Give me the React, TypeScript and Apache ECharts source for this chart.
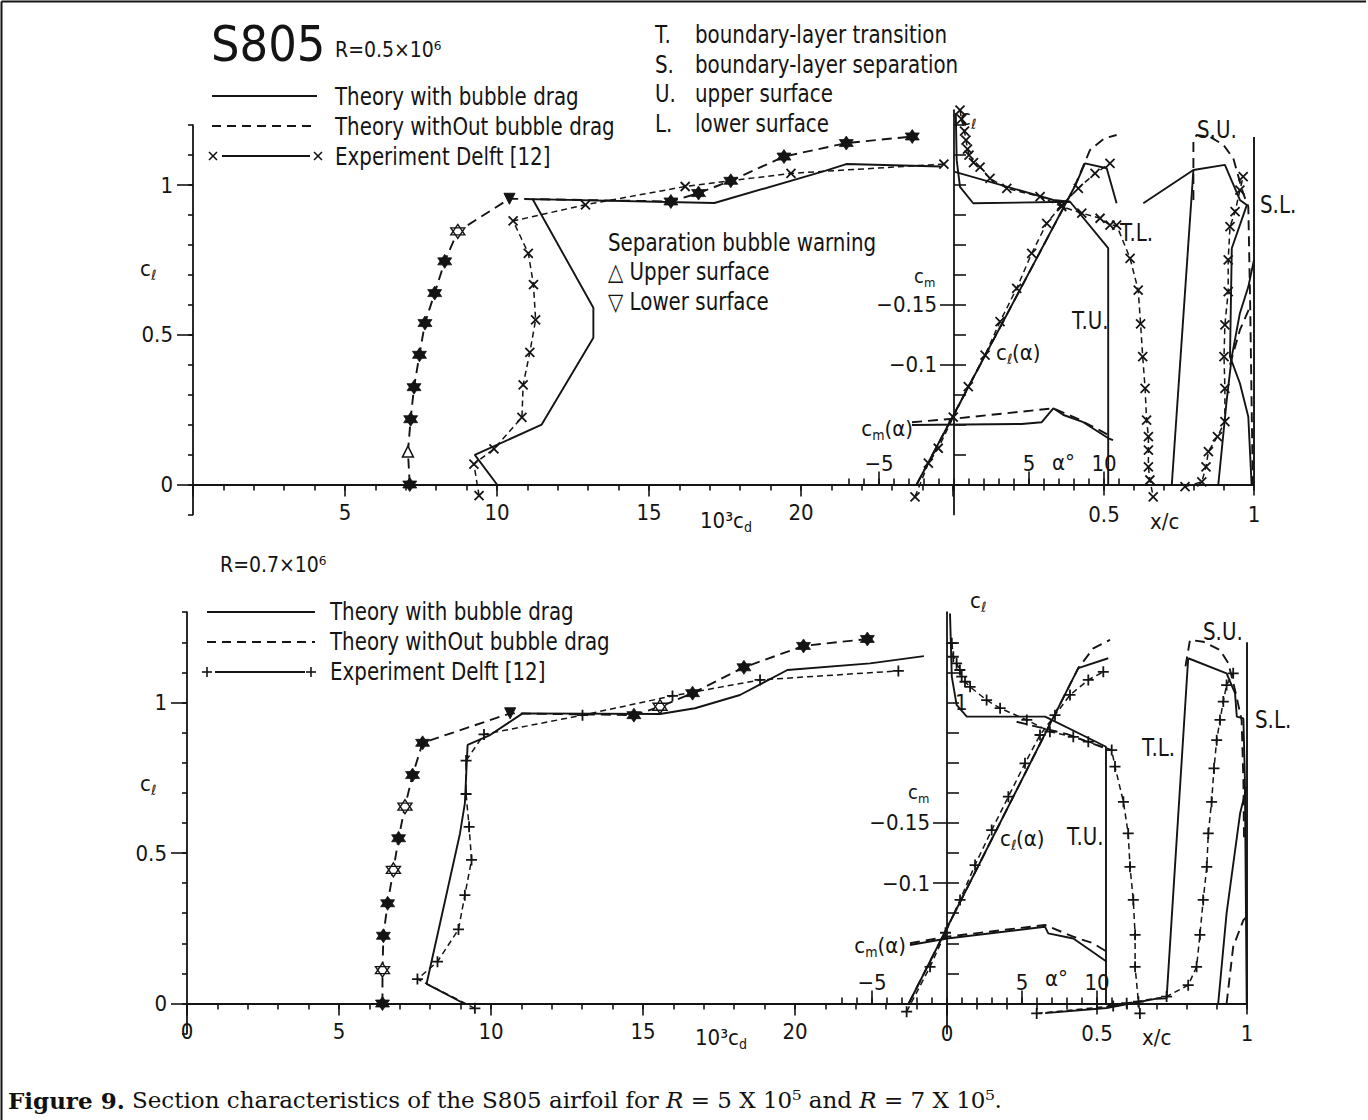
import React, { useEffect, useRef } from 'react';
import * as echarts from 'echarts';

// ================= DATA : R = 0.5 x 10^6 (upper panel) =================
// drag polar : 10^3 cd , cl
const topPolBubCd = [10.0, 9.27, 11.47, 13.17, 13.17, 11.17, 17.15, 20.79, 21.49, 24.6];
const topPolBubCl = [0.0, 0.099, 0.2, 0.49, 0.59, 0.953, 0.94, 1.047, 1.07, 1.062];
const topPolNoBubCd = [7.13, 7.07, 7.16, 7.27, 7.45, 7.63, 7.95, 8.28, 8.71, 10.41, 15.72, 16.63, 17.69, 19.44, 21.49, 23.66];
const topPolNoBubCl = [0.0, 0.11, 0.218, 0.325, 0.433, 0.539, 0.639, 0.745, 0.845, 0.954, 0.945, 0.973, 1.014, 1.095, 1.14, 1.162];
const topPolNoBubMark = ['F', 'U', 'F', 'F', 'F', 'F', 'F', 'F', 'H', 'D', 'F', 'F', 'F', 'F', 'F', 'F'];
const topPolExpCd = [9.41, 9.24, 9.9, 10.82, 10.86, 11.08, 11.27, 11.2, 11.03, 10.53, 12.91, 16.19, 19.67, 24.7];
const topPolExpCl = [-0.037, 0.068, 0.119, 0.224, 0.333, 0.441, 0.55, 0.667, 0.772, 0.88, 0.934, 0.995, 1.039, 1.07];
// lift curve : alpha , cl
const topLiftBubA = [-2.49, 8.1, 8.73, 10.18, 10.84];
const topLiftBubCl = [0.0, 1.0, 1.072, 1.056, 0.939];
const topLiftNoBubA = [-2.49, 8.0, 9.07, 10.0, 10.84];
const topLiftNoBubCl = [0.0, 0.99, 1.117, 1.155, 1.167];
const topLiftExpA = [-2.6, -1.71, -1.05, -0.05, 0.95, 2.07, 3.07, 4.18, 5.18, 6.18, 7.18, 8.29, 9.4, 10.4];
const topLiftExpCl = [-0.041, 0.071, 0.121, 0.225, 0.327, 0.432, 0.544, 0.655, 0.772, 0.872, 0.933, 0.989, 1.039, 1.072];
// pitching moment : alpha , cm
const topCmBubA = [-2.8, 4.5, 5.85, 6.62, 7.3, 8.62, 10.29, 10.6];
const topCmBubV = [-0.0497, -0.0505, -0.052, -0.0636, -0.058, -0.052, -0.0386, -0.037];
const topCmNoBubA = [-2.8, 0.3, 6.62, 8.18, 10.5];
const topCmNoBubV = [-0.052, -0.0553, -0.0636, -0.0553, -0.04];
// transition / separation : x/c , cl
const topTUBubXc = [0.514, 0.514, 0.387, 0.064, 0.02, 0.009, 0.006];
const topTUBubCl = [0.0, 0.789, 0.944, 0.939, 0.994, 1.083, 1.24];
const topTU2Xc = [0.003, 0.331, 0.387];
const topTU2Cl = [1.044, 0.95, 0.944];
const topTUExpXc = [0.02, 0.025, 0.035, 0.04, 0.045, 0.05, 0.065, 0.087, 0.12, 0.176, 0.287, 0.359, 0.426, 0.487, 0.52, 0.542, 0.587, 0.614, 0.622, 0.629, 0.637, 0.642, 0.648, 0.648, 0.648, 0.653, 0.664];
const topTUExpCl = [1.25, 1.22, 1.18, 1.15, 1.12, 1.1, 1.075, 1.06, 1.022, 0.989, 0.961, 0.928, 0.906, 0.889, 0.866, 0.866, 0.755, 0.649, 0.536, 0.427, 0.321, 0.215, 0.16, 0.115, 0.059, 0.015, -0.041];
const topTLXc = [0.726, 0.798];
const topTLCl = [0.0, 1.05];
const topSUBubXc = [0.631, 0.798, 0.903, 0.953, 0.976, 0.926, 0.92, 0.953, 0.981, 0.992];
const topSUBubCl = [0.939, 1.05, 1.067, 0.95, 0.933, 0.789, 0.427, 0.338, 0.226, 0.0];
const topSUNoBubXc = [0.798, 0.798, 0.809, 0.853, 0.898, 0.931, 0.948, 0.964, 0.981, 0.987, 0.996];
const topSUNoBubCl = [0.95, 1.15, 1.167, 1.161, 1.134, 1.089, 1.028, 0.972, 0.928, 0.616, 0.0];
const topSLBubXc = [0.881, 0.909, 0.926, 0.953, 0.981, 1.0];
const topSLBubCl = [0.0, 0.282, 0.427, 0.572, 0.66, 0.75];
const topSLNoBubXc = [0.92, 0.953, 0.987];
const topSLNoBubCl = [0.4, 0.516, 0.594];
const topLowExpXc = [0.77, 0.826, 0.84, 0.848, 0.878, 0.903, 0.903, 0.9, 0.903, 0.914, 0.914, 0.92, 0.937, 0.953, 0.964];
const topLowExpCl = [-0.007, 0.009, 0.059, 0.11, 0.16, 0.21, 0.321, 0.427, 0.533, 0.644, 0.75, 0.861, 0.911, 0.983, 1.028];
const topSLXc = [1.0, 1.0];
const topSLCl = [0.0, 1.16];

// ================= DATA : R = 0.7 x 10^6 (lower panel) =================
const botPolBubCd = [9.11, 7.88, 8.98, 9.14, 9.23, 9.97, 11.04, 15.56, 16.71, 18.19, 19.75, 22.47, 24.24];
const botPolBubCl = [0.0, 0.065, 0.565, 0.665, 0.859, 0.892, 0.964, 0.962, 0.981, 1.025, 1.108, 1.13, 1.154];
const botPolNoBubCd = [6.43, 6.43, 6.46, 6.6, 6.79, 6.96, 7.17, 7.42, 7.75, 10.63, 14.7, 15.56, 16.63, 18.32, 20.28, 22.38];
const botPolNoBubCl = [0.0, 0.111, 0.225, 0.333, 0.444, 0.549, 0.654, 0.759, 0.866, 0.964, 0.958, 0.986, 1.031, 1.117, 1.188, 1.211];
const botPolNoBubMark = ['F', 'H', 'F', 'F', 'H', 'F', 'H', 'F', 'F', 'D', 'F', 'H', 'F', 'F', 'F', 'F'];
const botPolExpCd = [9.47, 7.58, 8.24, 8.93, 9.14, 9.36, 9.28, 9.18, 9.18, 9.77, 13.01, 15.97, 18.85, 23.4];
const botPolExpCl = [-0.016, 0.081, 0.139, 0.246, 0.36, 0.477, 0.587, 0.696, 0.807, 0.894, 0.958, 1.022, 1.075, 1.105];
const botLiftBubA = [-2.55, 8.75, 10.75];
const botLiftBubCl = [0.0, 1.114, 1.147];
const botLiftNoBubA = [-2.55, 8.75, 9.75, 10.87];
const botLiftNoBubCl = [0.0, 1.114, 1.18, 1.208];
const botLiftExpA = [-2.69, -1.13, -0.1, 0.87, 1.87, 2.98, 4.09, 5.2, 6.2, 7.2, 8.2, 9.42, 10.42];
const botLiftExpCl = [-0.027, 0.122, 0.235, 0.344, 0.46, 0.576, 0.687, 0.798, 0.892, 0.958, 1.025, 1.075, 1.102];
const botCmBubA = [-2.47, 0.02, 6.53, 6.75, 8.42, 9.53, 10.65];
const botCmBubV = [-0.0486, -0.054, -0.0638, -0.0583, -0.054, -0.0444, -0.0347];
const botCmNoBubA = [-2.47, 0.02, 6.53, 8.42, 9.75, 10.65];
const botCmNoBubV = [-0.05, -0.0555, -0.0652, -0.0555, -0.05, -0.043];
const botTUBubXc = [0.53, 0.53, 0.327, 0.066, 0.032, 0.016, 0.01];
const botTUBubCl = [0.0, 0.853, 0.953, 0.953, 0.992, 1.086, 1.296];
const botTUNoBubXc = [0.232, 0.4, 0.527];
const botTUNoBubCl = [0.936, 0.895, 0.848];
const botTUExpXc = [0.016, 0.021, 0.032, 0.043, 0.049, 0.06, 0.077, 0.132, 0.177, 0.266, 0.343, 0.421, 0.471, 0.549, 0.56, 0.588, 0.604, 0.61, 0.621, 0.627, 0.627, 0.638, 0.643];
const botTUExpCl = [1.197, 1.152, 1.13, 1.108, 1.086, 1.069, 1.052, 1.008, 0.981, 0.942, 0.903, 0.886, 0.87, 0.842, 0.787, 0.67, 0.565, 0.454, 0.344, 0.228, 0.122, 0.006, -0.033];
const botTLBubXc = [0.327, 0.532, 0.699, 0.732, 0.804];
const botTLBubCl = [-0.032, -0.015, 0.016, 0.017, 1.147];
const botTLExpXc = [0.299, 0.554, 0.599, 0.732, 0.804, 0.832, 0.843, 0.854, 0.866, 0.871, 0.882, 0.89, 0.899, 0.91, 0.921, 0.932, 0.954];
const botTLExpCl = [-0.033, -0.008, 0.001, 0.023, 0.061, 0.122, 0.228, 0.344, 0.454, 0.565, 0.67, 0.781, 0.875, 0.942, 1.003, 1.058, 1.097];
const botSUBubXc = [0.804, 0.932, 0.96, 0.966, 0.988, 0.993, 0.999];
const botSUBubCl = [1.147, 1.097, 1.031, 0.953, 0.947, 0.743, 0.0];
const botSUNoBubXc = [0.795, 0.81, 0.854, 0.91, 0.938, 0.96, 0.982, 0.988, 0.99];
const botSUNoBubCl = [1.12, 1.208, 1.202, 1.174, 1.13, 1.042, 0.942, 0.743, 0.55];
const botSLBubXc = [0.904, 0.932, 0.977, 0.999];
const botSLBubCl = [0.0, 0.3, 0.632, 0.72];
const botSLNoBubXc = [0.932, 0.954, 0.988, 0.999];
const botSLNoBubCl = [0.0, 0.189, 0.277, 0.288];
const botSLXc = [1.0, 1.0];
const botSLCl = [0.0, 1.2];

// ================= TICK LABELS =================
const clLabels = [0, 0.5, 1];
const cdLabelsTop = [5, 10, 15, 20];
const cdLabelsBot = [0, 5, 10, 15, 20];
const cdMajorTicks = [0, 5, 10, 15, 20, 25];
const alphaLabels = [-5, 5, 10];
const xcLabelsTop = [0.5, 1];
const xcLabelsBot = [0, 0.5, 1];
const cmLabels = [-0.15, -0.1];
const liftTicks = [0.1, 0.2, 0.3, 0.4, 0.5, 0.6, 0.7, 0.8, 0.9, 1.0, 1.1, 1.2];

// ================= STYLE =================
const INK = '#141414';
const F = "'DejaVu Sans Condensed', 'Liberation Sans Narrow', 'DejaVu Sans', sans-serif";
const SERIF = "'DejaVu Serif', 'Liberation Serif', serif";
const CD_PX = 30.4;
const DEG_PX = 15;
const XC_PX = 300;
const LW = 1.9;
const SYM_X = 'path://M0,0L10,10M10,0L0,10';
const SYM_PLUS = 'path://M5,0L5,10M0,5L10,5';
const SYM_STAR = 'path://M5,0L9.33,7.5L0.67,7.5Z M5,10L0.67,2.5L9.33,2.5Z';

const MARK: any = {
  F: { symbol: SYM_STAR, symbolSize: 14, itemStyle: { color: INK, borderColor: INK, borderWidth: 0.8 } },
  H: { symbol: SYM_STAR, symbolSize: 14, itemStyle: { color: '#fff', borderColor: INK, borderWidth: 1.4 } },
  U: { symbol: 'triangle', symbolSize: 11, itemStyle: { color: '#fff', borderColor: INK, borderWidth: 1.5 } },
  D: { symbol: 'triangle', symbolSize: 11, symbolRotate: 180, itemStyle: { color: INK, borderColor: INK, borderWidth: 1 } },
};

function pts(xs: number[], ys: number[]) {
  return xs.map((x, i) => [x, ys[i]]);
}
const minus = (v: number) => (v < 0 ? '\u2212' + String(Math.abs(v)) : String(v));

const PANELS = [
  {
    y0: 484.5, k: 299.5, polX0: 193, liftX0: 954, polMax: 1.2, liftMax: 1.25,
    cdLabels: cdLabelsTop, xcLabels: xcLabelsTop, liftLabels: [] as number[], expSym: SYM_X, expSize: 9,
    polBub: pts(topPolBubCd, topPolBubCl),
    polNoBub: topPolNoBubCd.map((x, i) => ({ value: [x, topPolNoBubCl[i]], ...MARK[topPolNoBubMark[i]] })),
    polExp: pts(topPolExpCd, topPolExpCl),
    liftBub: pts(topLiftBubA, topLiftBubCl), liftNoBub: pts(topLiftNoBubA, topLiftNoBubCl), liftExp: pts(topLiftExpA, topLiftExpCl),
    cmBub: pts(topCmBubA, topCmBubV), cmNoBub: pts(topCmNoBubA, topCmNoBubV),
    trans: [
      { d: pts(topTUBubXc, topTUBubCl), kind: 'bub' },
      { d: pts(topTU2Xc, topTU2Cl), kind: 'bub' },
      { d: pts(topTUExpXc, topTUExpCl), kind: 'exp' },
      { d: pts(topTLXc, topTLCl), kind: 'bub' },
      { d: pts(topSUBubXc, topSUBubCl), kind: 'bub' },
      { d: pts(topSUNoBubXc, topSUNoBubCl), kind: 'nob' },
      { d: pts(topSLBubXc, topSLBubCl), kind: 'bub' },
      { d: pts(topSLNoBubXc, topSLNoBubCl), kind: 'nob' },
      { d: pts(topLowExpXc, topLowExpCl), kind: 'exp' },
      { d: pts(topSLXc, topSLCl), kind: 'bub' },
    ],
  },
  {
    y0: 1003.5, k: 301, polX0: 187, liftX0: 947, polMax: 1.3, liftMax: 1.3,
    cdLabels: cdLabelsBot, xcLabels: xcLabelsBot, liftLabels: [1], expSym: SYM_PLUS, expSize: 11,
    polBub: pts(botPolBubCd, botPolBubCl),
    polNoBub: botPolNoBubCd.map((x, i) => ({ value: [x, botPolNoBubCl[i]], ...MARK[botPolNoBubMark[i]] })),
    polExp: pts(botPolExpCd, botPolExpCl),
    liftBub: pts(botLiftBubA, botLiftBubCl), liftNoBub: pts(botLiftNoBubA, botLiftNoBubCl), liftExp: pts(botLiftExpA, botLiftExpCl),
    cmBub: pts(botCmBubA, botCmBubV), cmNoBub: pts(botCmNoBubA, botCmNoBubV),
    trans: [
      { d: pts(botTUBubXc, botTUBubCl), kind: 'bub' },
      { d: pts(botTUNoBubXc, botTUNoBubCl), kind: 'nob' },
      { d: pts(botTUExpXc, botTUExpCl), kind: 'exp' },
      { d: pts(botTLBubXc, botTLBubCl), kind: 'bub' },
      { d: pts(botTLExpXc, botTLExpCl), kind: 'exp' },
      { d: pts(botSUBubXc, botSUBubCl), kind: 'bub' },
      { d: pts(botSUNoBubXc, botSUNoBubCl), kind: 'nob' },
      { d: pts(botSLBubXc, botSLBubCl), kind: 'bub' },
      { d: pts(botSLNoBubXc, botSLNoBubCl), kind: 'nob' },
      { d: pts(botSLXc, botSLCl), kind: 'bub' },
    ],
  },
];

const axLine = { show: true, onZero: false, lineStyle: { color: INK, width: 1.8 } };
const noLine = { show: false, onZero: false };
const tickStyle = { color: INK, width: 1.6 };
const lblBase = { color: INK, fontFamily: F, fontSize: 22 };
const baseAxis = { type: 'value', splitLine: { show: false }, axisPointer: { show: false } };

function lineSeries(xi: number, yi: number, data: any[], kind: string, P: any) {
  const s: any = {
    type: 'line', xAxisIndex: xi, yAxisIndex: yi, data, clip: false, silent: true, animation: false,
    lineStyle: { color: INK, width: LW, type: 'solid' },
    symbol: 'none', showSymbol: false,
  };
  if (kind === 'nob') s.lineStyle = { color: INK, width: LW, type: [10, 6] };
  if (kind === 'exp') {
    s.lineStyle = { color: INK, width: 1.5, type: [6, 4] };
    s.symbol = P.expSym;
    s.symbolSize = P.expSize;
    s.showSymbol = true;
    s.itemStyle = { color: 'rgba(0,0,0,0)', borderColor: INK, borderWidth: 1.8 };
  }
  if (kind === 'marked') {
    s.lineStyle = { color: INK, width: LW, type: [10, 6] };
    s.symbol = SYM_STAR;
    s.showSymbol = true;
    s.z = 3;
  }
  return s;
}

function buildOption() {
  const grid: any[] = [];
  const xAxis: any[] = [];
  const yAxis: any[] = [];
  const series: any[] = [];

  PANELS.forEach((P) => {
    const offB = -0.1 * P.k;
    // ---- drag polar grid ----
    const gP = grid.push({ show: false, outerBoundsMode: 'none', containLabel: false, left: P.polX0, top: P.y0 - P.polMax * P.k, width: 25 * CD_PX, height: (P.polMax + 0.1) * P.k }) - 1;
    const xP = xAxis.push({ ...baseAxis, gridIndex: gP, min: 0, max: 25, interval: 1, position: 'bottom', offset: offB, axisLine: axLine, axisTick: { show: true, length: 6, lineStyle: tickStyle }, axisLabel: { show: false } }) - 1;
    xAxis.push({ ...baseAxis, gridIndex: gP, min: 0, max: 25, position: 'bottom', offset: offB, axisLine: noLine, axisTick: { show: true, customValues: cdMajorTicks, length: 12, lineStyle: tickStyle }, axisLabel: { show: true, customValues: P.cdLabels, margin: 17, ...lblBase } });
    const yP = yAxis.push({ ...baseAxis, gridIndex: gP, min: -0.1, max: P.polMax, interval: 0.1, position: 'left', axisLine: axLine, axisTick: { show: true, length: 5, lineStyle: tickStyle }, axisLabel: { show: false } }) - 1;
    yAxis.push({ ...baseAxis, gridIndex: gP, min: -0.1, max: P.polMax, position: 'left', axisLine: noLine, axisTick: { show: true, customValues: clLabels, length: 16, lineStyle: tickStyle }, axisLabel: { show: true, customValues: clLabels, margin: 20, ...lblBase } });

    // ---- lift / moment grid ----
    const topA = P.y0 - P.liftMax * P.k;
    const hA = (P.liftMax + 0.1) * P.k;
    const gA = grid.push({ show: false, outerBoundsMode: 'none', containLabel: false, left: P.liftX0 - 7 * DEG_PX, top: topA, width: 18 * DEG_PX, height: hA }) - 1;
    const xA = xAxis.push({ ...baseAxis, gridIndex: gA, min: -7, max: 11, interval: 1, position: 'bottom', offset: offB, axisLine: axLine, axisTick: { show: true, inside: true, length: 6, lineStyle: tickStyle }, axisLabel: { show: false } }) - 1;
    xAxis.push({ ...baseAxis, gridIndex: gA, min: -7, max: 11, position: 'bottom', offset: offB, axisLine: noLine, axisTick: { show: true, inside: true, customValues: alphaLabels, length: 13, lineStyle: tickStyle }, axisLabel: { show: true, inside: true, customValues: alphaLabels, margin: 10, formatter: minus, ...lblBase } });
    const yA = yAxis.push({ ...baseAxis, gridIndex: gA, min: -0.1, max: P.liftMax, position: 'left', offset: -7 * DEG_PX, axisLine: axLine, axisTick: { show: true, inside: true, customValues: liftTicks, length: 12, lineStyle: tickStyle }, axisLabel: { show: P.liftLabels.length > 0, inside: true, customValues: P.liftLabels, margin: 8, ...lblBase } }) - 1;
    const yM = yAxis.push({ ...baseAxis, gridIndex: gA, min: -P.liftMax / 4, max: 0.025, inverse: true, position: 'left', offset: -7 * DEG_PX, axisLine: noLine, axisTick: { show: true, customValues: cmLabels, length: 14, lineStyle: tickStyle }, axisLabel: { show: true, customValues: cmLabels, margin: 17, formatter: minus, ...lblBase } }) - 1;

    // ---- transition grid ----
    const gT = grid.push({ show: false, outerBoundsMode: 'none', containLabel: false, left: P.liftX0, top: topA, width: XC_PX, height: hA }) - 1;
    const xT = xAxis.push({ ...baseAxis, gridIndex: gT, min: 0, max: 1, interval: 0.1, position: 'bottom', offset: offB, axisLine: axLine, axisTick: { show: true, length: 6, lineStyle: tickStyle }, axisLabel: { show: false } }) - 1;
    xAxis.push({ ...baseAxis, gridIndex: gT, min: 0, max: 1, position: 'bottom', offset: offB, axisLine: noLine, axisTick: { show: true, customValues: P.xcLabels, length: 11, lineStyle: tickStyle }, axisLabel: { show: true, customValues: P.xcLabels, margin: 19, ...lblBase } });
    const yT = yAxis.push({ ...baseAxis, gridIndex: gT, min: -0.1, max: P.liftMax, show: false }) - 1;

    // ---- series ----
    series.push(lineSeries(xP, yP, P.polBub, 'bub', P));
    series.push(lineSeries(xP, yP, P.polNoBub, 'marked', P));
    series.push(lineSeries(xP, yP, P.polExp, 'exp', P));
    series.push(lineSeries(xA, yA, P.liftBub, 'bub', P));
    series.push(lineSeries(xA, yA, P.liftNoBub, 'nob', P));
    series.push(lineSeries(xA, yA, P.liftExp, 'exp', P));
    series.push(lineSeries(xA, yM, P.cmBub, 'bub', P));
    series.push(lineSeries(xA, yM, P.cmNoBub, 'nob', P));
    P.trans.forEach((t: any) => series.push(lineSeries(xT, yT, t.d, t.kind, P)));
  });

  // ---------- annotations ----------
  const T = (x: number, y: number, text: string, size = 22, align = 'left', sx = 1) => ({
    type: 'text', x, y, scaleX: sx, silent: true, z: 10,
    style: { text, fill: INK, fontSize: size, fontFamily: F, align, verticalAlign: 'middle', textAlign: align, textVerticalAlign: 'middle' },
  });
  // legend / key texts : slightly taller, narrower lettering like the plotter font
  const TL = (x: number, y: number, text: string) => T(x, y, text, 24, 'left', 0.92);
  const TR = (x: number, y: number, parts: Array<[string, boolean]>, size = 22, align = 'left') => ({
    type: 'text', x, y, silent: true, z: 10,
    style: {
      text: parts.map(([t, s]) => `{${s ? 's' : 'n'}|${t}}`).join(''),
      rich: {
        n: { fontSize: size, fontFamily: F, fill: INK },
        s: { fontSize: Math.round(size * 0.64), fontFamily: F, fill: INK, padding: [Math.round(size * 0.6), 0, 0, 0] },
      },
      fill: INK, fontSize: size, fontFamily: F, align, verticalAlign: 'middle', textAlign: align, textVerticalAlign: 'middle',
    },
  });
  const L = (x1: number, y1: number, x2: number, y2: number, dash?: number[], w = 1.8) => ({
    type: 'line', silent: true, z: 10, shape: { x1, y1, x2, y2 }, style: { stroke: INK, lineWidth: w, lineDash: dash },
  });
  const cross = (x: number, y: number) => [L(x - 4, y - 4, x + 4, y + 4, undefined, 1.6), L(x - 4, y + 4, x + 4, y - 4, undefined, 1.6)];
  const plus = (x: number, y: number) => [L(x - 5, y, x + 5, y, undefined, 1.6), L(x, y - 5, x, y + 5, undefined, 1.6)];
  const cl = (t = ''): Array<[string, boolean]> => (t ? [['c', false], ['\u2113', true], [t, false]] : [['c', false], ['\u2113', true]]);
  const cm = (t = ''): Array<[string, boolean]> => (t ? [['c', false], ['m', true], [t, false]] : [['c', false], ['m', true]]);

  const graphic: any[] = [
    // frame
    L(1.5, 1.5, 1366, 1.5, undefined, 2),
    L(1.5, 1.5, 1.5, 1120, undefined, 2),
    // ---- upper panel ----
    T(211, 44, 'S805', 50),
    T(335, 50, 'R=0.5\u00d710\u2076', 21),
    L(212, 96, 317, 96),
    L(212, 126, 317, 126, [9, 6]),
    ...cross(213, 156), L(222, 156, 310, 156), ...cross(318, 156),
    TL(335, 97, 'Theory with bubble drag'),
    TL(335, 127, 'Theory withOut bubble drag'),
    TL(335, 157, 'Experiment Delft [12]'),
    TL(655, 35, 'T.'), TL(695, 35, 'boundary-layer transition'),
    TL(655, 65, 'S.'), TL(695, 65, 'boundary-layer separation'),
    TL(655, 94, 'U.'), TL(695, 94, 'upper surface'),
    TL(655, 124, 'L.'), TL(695, 124, 'lower surface'),
    TL(608, 243, 'Separation bubble warning'),
    TL(608, 272, '\u25b3 Upper surface'),
    TL(608, 302, '\u25bd Lower surface'),
    TR(140, 268, cl()),
    TR(700, 520, [['10\u00b3c', false], ['d', true]]),
    TR(914, 276, cm(), 20),
    TR(960, 117, cl()),
    TR(996, 352, cl('(\u03b1)')),
    TR(913, 428, cm('(\u03b1)'), 22, 'right'),
    T(1052, 462, '\u03b1\u00b0'),
    T(1150, 521, 'x/c'),
    TL(1072, 321, 'T.U.'),
    TL(1120, 233, 'T.L.'),
    TL(1197, 130, 'S.U.'),
    TL(1260, 205, 'S.L.'),
    // ---- lower panel ----
    T(220, 565, 'R=0.7\u00d710\u2076', 21),
    L(207, 612, 315, 612),
    L(207, 642, 315, 642, [9, 6]),
    ...plus(207, 672), L(215, 672, 305, 672), ...plus(311, 672),
    TL(330, 612, 'Theory with bubble drag'),
    TL(330, 642, 'Theory withOut bubble drag'),
    TL(330, 672, 'Experiment Delft [12]'),
    TR(140, 783, cl()),
    TR(695, 1037, [['10\u00b3c', false], ['d', true]]),
    TR(908, 792, cm(), 20),
    TR(970, 600, cl()),
    TR(1000, 838, cl('(\u03b1)')),
    TR(906, 945, cm('(\u03b1)'), 22, 'right'),
    T(1045, 978, '\u03b1\u00b0'),
    T(1142, 1037, 'x/c'),
    TL(1067, 837, 'T.U.'),
    TL(1142, 748, 'T.L.'),
    TL(1203, 632, 'S.U.'),
    TL(1255, 720, 'S.L.'),
    // caption
    {
      type: 'text', x: 8, y: 1100, silent: true, z: 10,
      style: {
        text: '{b|Figure 9.}{n| Section characteristics of the S805 airfoil for }{i|R}{n| = 5 X 10\u2075 and }{i|R}{n| = 7 X 10\u2075.}',
        rich: {
          b: { fontFamily: SERIF, fontWeight: 'bold', fontSize: 23, fill: '#111' },
          n: { fontFamily: SERIF, fontSize: 23, fill: '#111' },
          i: { fontFamily: SERIF, fontStyle: 'italic', fontSize: 23, fill: '#111' },
        },
        fontFamily: SERIF, fontSize: 23, fill: '#111', align: 'left', verticalAlign: 'middle', textAlign: 'left', textVerticalAlign: 'middle',
      },
    },
  ];

  return { animation: false, backgroundColor: '#fff', grid, xAxis, yAxis, series, graphic };
}

export default function App() {
  const ref = useRef<HTMLDivElement>(null);
  useEffect(() => {
    const chart = echarts.init(ref.current!, null, { renderer: 'svg' });
    chart.setOption(buildOption() as any);
    return () => chart.dispose();
  }, []);
  return (
    <div
      ref={ref}
      style={{ position: 'absolute', left: 0, top: 0, width: 1368, height: 1120, background: '#fff' }}
    />
  );
}
